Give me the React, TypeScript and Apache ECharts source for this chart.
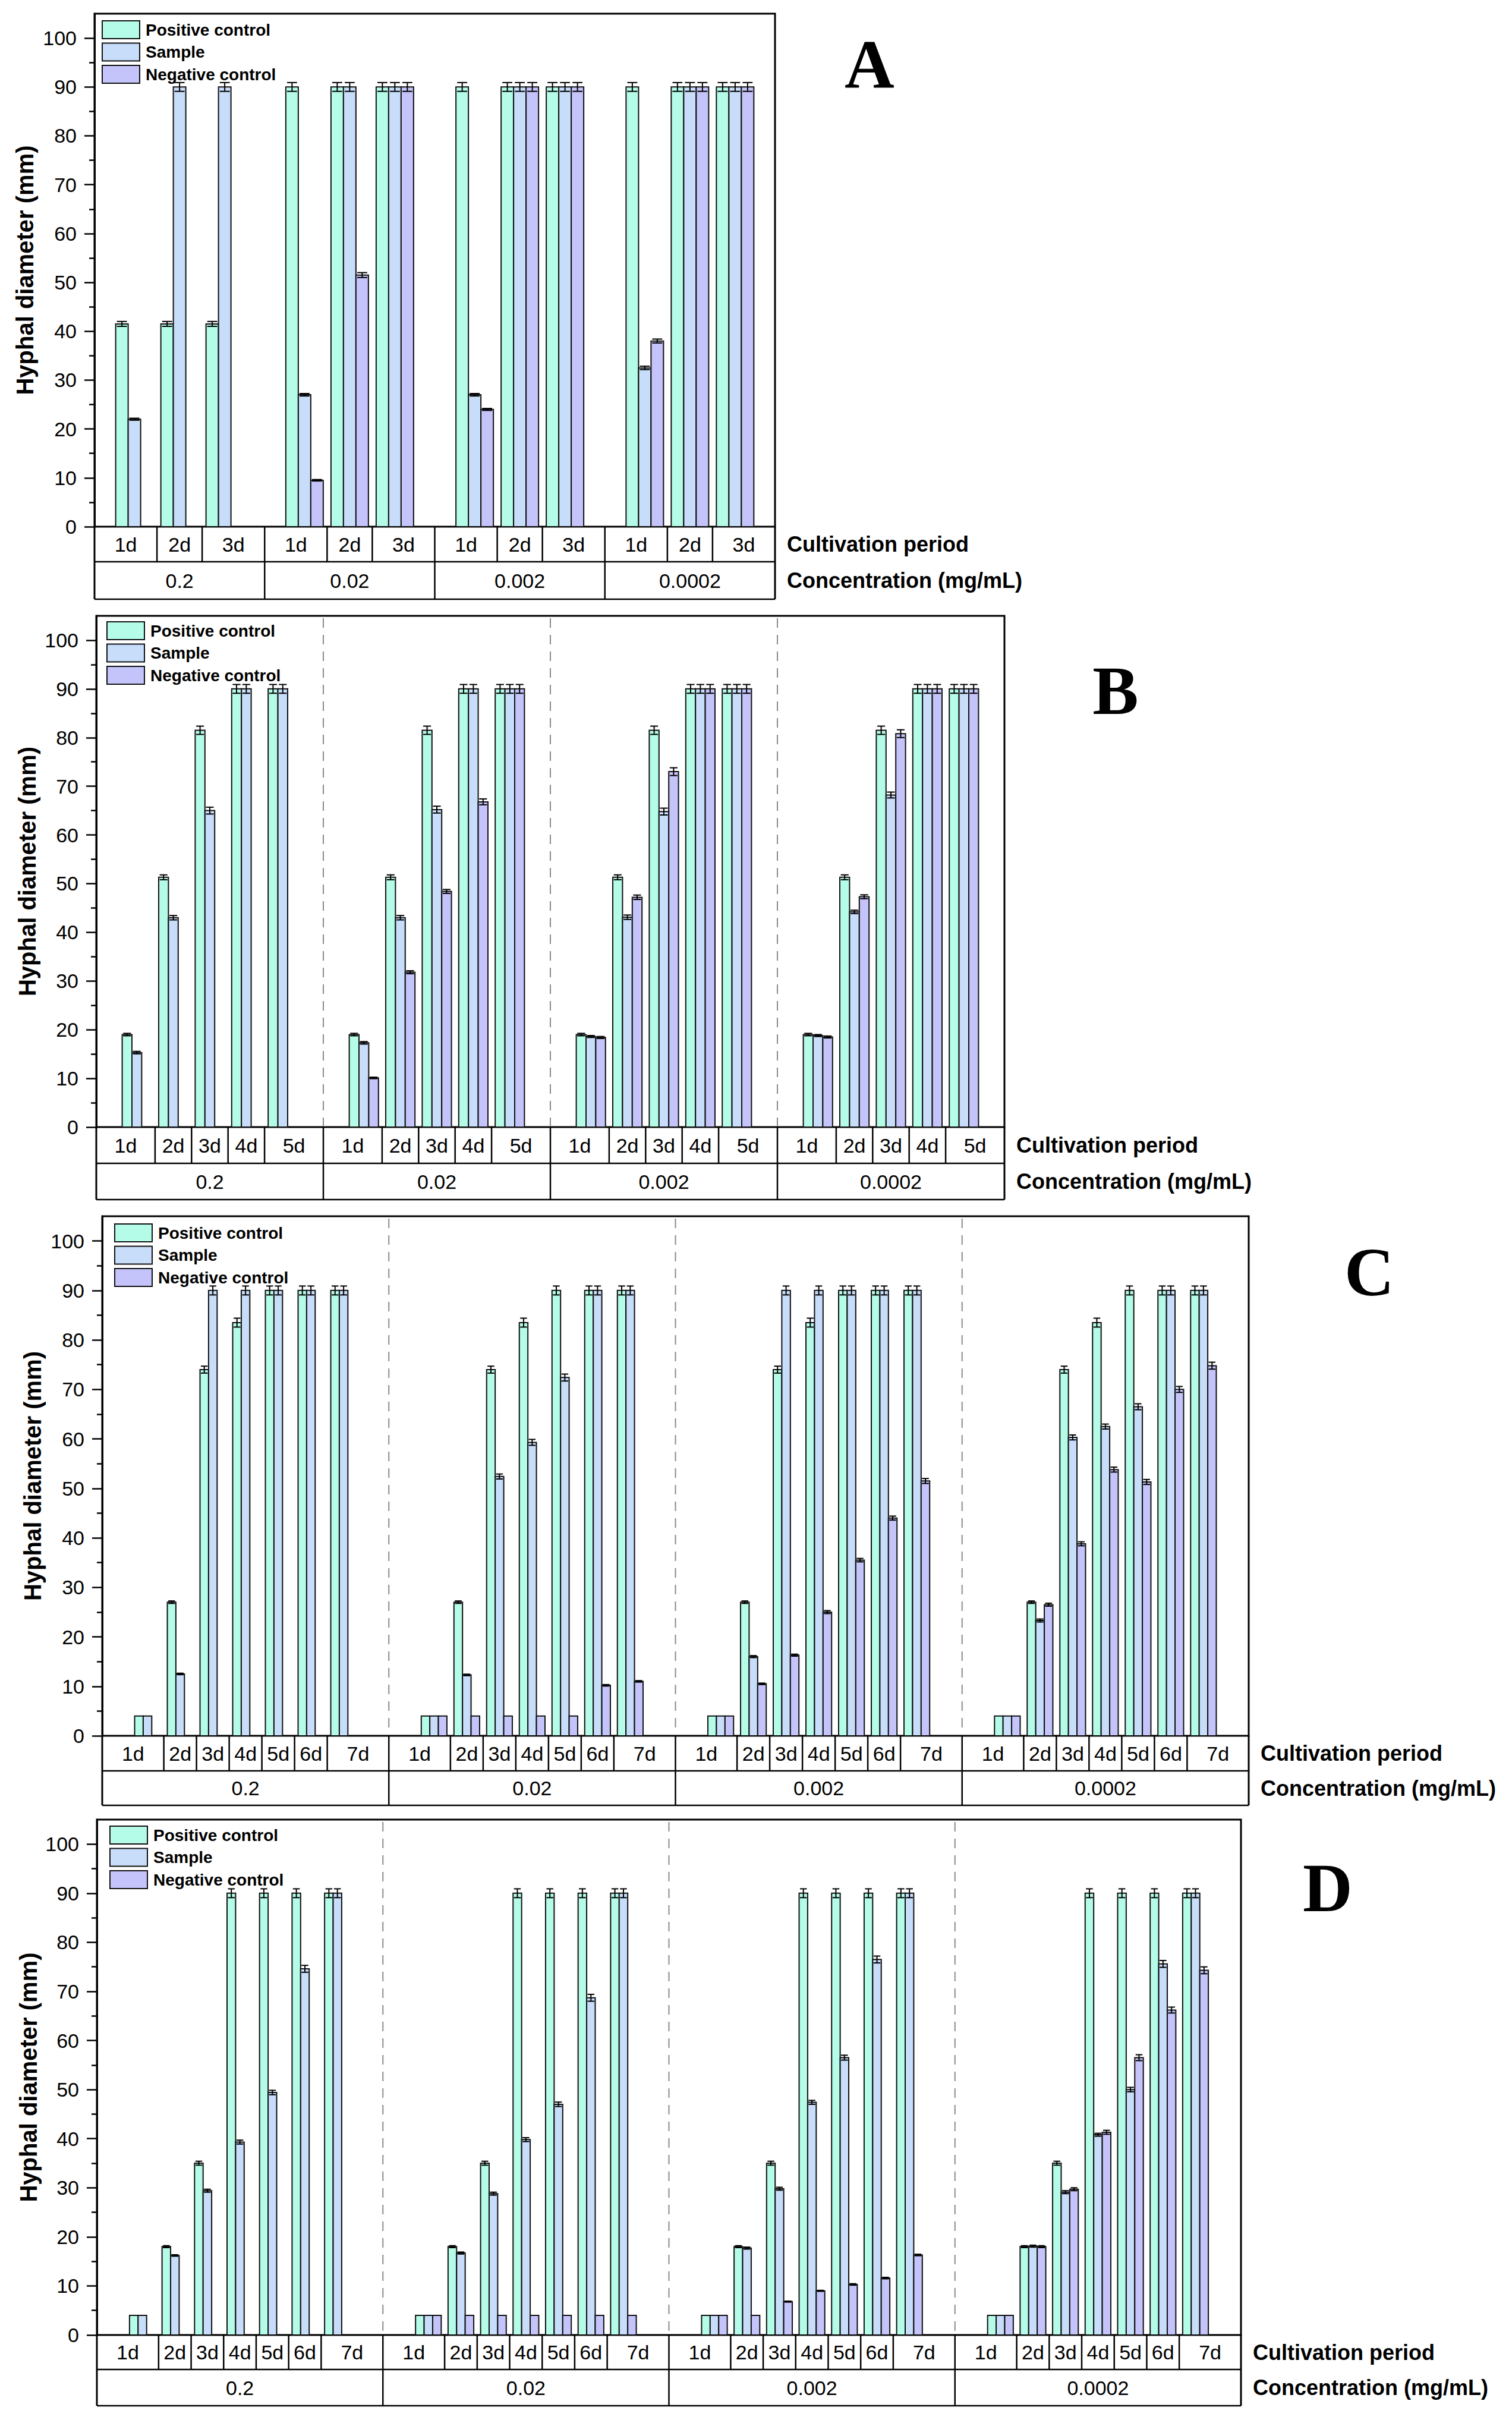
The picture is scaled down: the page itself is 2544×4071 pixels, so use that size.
import React, { useEffect, useRef } from "react";
import * as echarts from "echarts";

// ---------- data ----------
const CONCENTRATIONS = ["0.2", "0.02", "0.002", "0.0002"];
const DAYS_A = ["1d", "2d", "3d"];
const DAYS_B = ["1d", "2d", "3d", "4d", "5d"];
const DAYS_CD = ["1d", "2d", "3d", "4d", "5d", "6d", "7d"];
const SERIES_NAMES = ["Positive control", "Sample", "Negative control"];
const COLORS = ["#B4FCE8", "#C7DDFA", "#C4C4FA"];
const Y_MAJOR = [0, 10, 20, 30, 40, 50, 60, 70, 80, 90, 100];
const Y_MINOR = [5, 15, 25, 35, 45, 55, 65, 75, 85, 95];

// Panel A (3 days)
const A_pos = [[41.5, 41.5, 41.5], [90, 90, 90], [90, 90, 90], [90, 90, 90]];
const A_sam = [[22, 90, 90], [27, 90, 90], [27, 90, 90], [32.5, 90, 90]];
const A_neg = [[null, null, null], [9.5, 51.5, 90], [24, 90, 90], [38, 90, 90]];
const A_posErr = [[0.5, 0.5, 0.5], [0.9, 0.9, 0.9], [0.9, 0.9, 0.9], [0.9, 0.9, 0.9]];
const A_samErr = [[0.2, 0.9, 0.9], [0.25, 0.9, 0.9], [0.25, 0.9, 0.9], [0.35, 0.9, 0.9]];
const A_negErr = [[0, 0, 0], [0.15, 0.5, 0.9], [0.2, 0.9, 0.9], [0.4, 0.9, 0.9]];

// Panel B (5 days)
const B_pos = [[19, 51.3, 81.5, 90, 90], [19, 51.3, 81.5, 90, 90], [19, 51.3, 81.5, 90, 90], [19, 51.3, 81.5, 90, 90]];
const B_sam = [[15.3, 43, 65, 90, 90], [17.3, 43, 65.2, 90, 90], [18.6, 43.1, 64.8, 90, 90], [18.8, 44.2, 68.2, 90, 90]];
const B_neg = [[null, null, null, null, null], [10.1, 31.8, 48.4, 66.8, 90], [18.4, 47.2, 73, 90, 90], [18.5, 47.3, 80.8, 90, 90]];
const B_posErr = [[0.25, 0.5, 0.85, 0.9, 0.9], [0.25, 0.5, 0.85, 0.9, 0.9], [0.25, 0.5, 0.85, 0.9, 0.9], [0.25, 0.5, 0.85, 0.9, 0.9]];
const B_samErr = [[0.25, 0.45, 0.7, 0.9, 0.9], [0.25, 0.45, 0.7, 0.9, 0.9], [0.2, 0.45, 0.7, 0.9, 0.9], [0.2, 0.35, 0.6, 0.9, 0.9]];
const B_negErr = [[0, 0, 0, 0, 0], [0.15, 0.3, 0.4, 0.6, 0.9], [0.2, 0.45, 0.8, 0.9, 0.9], [0.2, 0.4, 0.8, 0.9, 0.9]];

// Panel C (7 days)
const C_pos = [[4, 27, 74, 83.5, 90, 90, 90], [4, 27, 74, 83.5, 90, 90, 90], [4, 27, 74, 83.5, 90, 90, 90], [4, 27, 74, 83.5, 90, 90, 90]];
const C_sam = [[4, 12.5, 90, 90, 90, 90, 90], [4, 12.3, 52.4, 59.3, 72.4, 90, 90], [4, 16, 90, 90, 90, 90, 90], [4, 23.3, 60.3, 62.5, 66.5, 90, 90]];
const C_neg = [[null, null, null, null, null, null, null], [4, 4, 4, 4, 4, 10.2, 11], [4, 10.5, 16.3, 25, 35.5, 44, 51.5], [4, 26.5, 38.8, 53.8, 51.3, 70, 74.8]];
const C_posErr = [[0, 0.25, 0.7, 0.9, 0.9, 0.9, 0.9], [0, 0.25, 0.7, 0.9, 0.9, 0.9, 0.9], [0, 0.25, 0.7, 0.9, 0.9, 0.9, 0.9], [0, 0.25, 0.7, 0.9, 0.9, 0.9, 0.9]];
const C_samErr = [[0, 0.15, 0.9, 0.9, 0.9, 0.9, 0.9], [0, 0.15, 0.5, 0.6, 0.7, 0.9, 0.9], [0, 0.2, 0.9, 0.9, 0.9, 0.9, 0.9], [0, 0.3, 0.5, 0.5, 0.6, 0.9, 0.9]];
const C_negErr = [[0, 0, 0, 0, 0, 0, 0], [0, 0, 0, 0, 0, 0.15, 0.15], [0, 0.15, 0.2, 0.3, 0.35, 0.4, 0.5], [0, 0.3, 0.4, 0.5, 0.5, 0.6, 0.7]];

// Panel D (7 days)
const D_pos = [[4, 18, 35, 90, 90, 90, 90], [4, 18, 35, 90, 90, 90, 90], [4, 18, 35, 90, 90, 90, 90], [4, 18, 35, 90, 90, 90, 90]];
const D_sam = [[4, 16.2, 29.4, 39.3, 49.4, 74.6, 90], [4, 16.7, 28.8, 39.8, 47, 68.7, 90], [4, 17.7, 29.8, 47.4, 56.5, 76.5, 90], [4, 18.1, 29.1, 40.8, 50, 75.6, 90]];
const D_neg = [[null, null, null, null, null, null, null], [4, 4, 4, 4, 4, 4, 4], [4, 4, 6.8, 9, 10.3, 11.6, 16.3], [4, 18, 29.7, 41.3, 56.5, 66.2, 74.3]];
const D_posErr = [[0, 0.2, 0.4, 0.9, 0.9, 0.9, 0.9], [0, 0.2, 0.4, 0.9, 0.9, 0.9, 0.9], [0, 0.2, 0.4, 0.9, 0.9, 0.9, 0.9], [0, 0.2, 0.4, 0.9, 0.9, 0.9, 0.9]];
const D_samErr = [[0, 0.15, 0.3, 0.4, 0.45, 0.7, 0.9], [0, 0.2, 0.3, 0.4, 0.45, 0.7, 0.9], [0, 0.2, 0.3, 0.4, 0.5, 0.7, 0.9], [0, 0.2, 0.3, 0.3, 0.45, 0.7, 0.9]];
const D_negErr = [[0, 0, 0, 0, 0, 0, 0], [0, 0, 0, 0, 0, 0, 0], [0, 0, 0.1, 0.1, 0.15, 0.15, 0.15], [0, 0.2, 0.3, 0.4, 0.6, 0.6, 0.7]];

// ---------- layout ----------
const FONT = '"Liberation Sans", Arial, sans-serif';
const SERIF = '"Liberation Serif", "Times New Roman", serif';

const PANELS = [
  { id: "A", days: DAYS_A, vals: [A_pos, A_sam, A_neg], errs: [A_posErr, A_samErr, A_negErr],
    L: 159, R: 1304, T: 23, Y0: 886, dayB: 945, concB: 1008, barW: 21, step: 76, dashed: false,
    legend: [171, 34], titleX: 42, letter: [1463, 108] },
  { id: "B", days: DAYS_B, vals: [B_pos, B_sam, B_neg], errs: [B_posErr, B_samErr, B_negErr],
    L: 162, R: 1690, T: 1036, Y0: 1896, dayB: 1957, concB: 2018, barW: 16.4, step: 61.4, dashed: true,
    legend: [179, 1045], titleX: 46, letter: [1877, 1162] },
  { id: "C", days: DAYS_CD, vals: [C_pos, C_sam, C_neg], errs: [C_posErr, C_samErr, C_negErr],
    L: 172, R: 2101, T: 2046, Y0: 2920, dayB: 2979, concB: 3037, barW: 14.4, step: 55, dashed: true,
    legend: [192, 2058], titleX: 55, letter: [2304, 2140] },
  { id: "D", days: DAYS_CD, vals: [D_pos, D_sam, D_neg], errs: [D_posErr, D_samErr, D_negErr],
    L: 163, R: 2088, T: 3061, Y0: 3928, dayB: 3986, concB: 4047, barW: 14.4, step: 54.7, dashed: true,
    legend: [184, 3071], titleX: 48, letter: [2234, 3176] },
];

function makeRender(color: string, barW: number) {
  return (params: any, api: any) => {
    const x = api.value(0);
    const y = api.value(1);
    const err = api.value(2);
    const base = api.coord([x, 0]);
    const top = api.coord([x, y]);
    const w = api.size([barW, 0])[0];
    const children: any[] = [
      {
        type: "rect",
        shape: { x: base[0] - w / 2, y: top[1], width: w, height: base[1] - top[1] },
        style: { fill: color, stroke: "#111", lineWidth: 2 },
      },
    ];
    if (err > 0) {
      const t = api.coord([x, y + err])[1];
      const b = api.coord([x, y - err])[1];
      const cw = (w * 0.8) / 2;
      const st = { stroke: "#000", lineWidth: 2 };
      children.push({ type: "line", shape: { x1: base[0], y1: t, x2: base[0], y2: b }, style: st });
      children.push({ type: "line", shape: { x1: base[0] - cw, y1: t, x2: base[0] + cw, y2: t }, style: st });
      children.push({ type: "line", shape: { x1: base[0] - cw, y1: b, x2: base[0] + cw, y2: b }, style: st });
    }
    return { type: "group", children };
  };
}

function buildOption() {
  const grid: any[] = [];
  const xAxis: any[] = [];
  const yAxis: any[] = [];
  const series: any[] = [];
  const legend: any[] = [];
  const graphic: any[] = [];

  PANELS.forEach((p, pi) => {
    const span = p.R - p.L;
    const W = span / CONCENTRATIONS.length;
    const n = p.days.length;
    const e = (W - (n - 1) * p.step) / 2;

    grid.push({ left: p.L, top: p.T, width: span, height: p.Y0 - p.T, show: true, borderColor: "#000", borderWidth: 3, backgroundColor: "transparent" });
    xAxis.push({ type: "value", gridIndex: pi, min: 0, max: span, show: false });
    yAxis.push({
      type: "value", gridIndex: pi, min: 0, max: 105, interval: 10, position: "left",
      axisLine: { show: true, lineStyle: { color: "#000", width: 3 } },
      axisTick: { show: true, length: 17, customValues: Y_MAJOR, lineStyle: { color: "#000", width: 2.5 } },
      axisLabel: { show: true, customValues: Y_MAJOR, fontSize: 34, color: "#000", fontFamily: FONT, margin: 30 },
      splitLine: { show: false },
    });
    yAxis.push({
      type: "value", gridIndex: pi, min: 0, max: 105, interval: 10, position: "left",
      axisLine: { show: false },
      axisTick: { show: true, length: 9, customValues: Y_MINOR, lineStyle: { color: "#000", width: 2.5 } },
      axisLabel: { show: false },
      splitLine: { show: false },
    });

    p.vals.forEach((vals, si) => {
      const errs = p.errs[si];
      const data: any[] = [];
      vals.forEach((gv: any[], g: number) =>
        gv.forEach((v: any, d: number) => {
          if (v == null) return;
          const x = g * W + e + d * p.step + (si - 1) * p.barW;
          data.push([x, v, errs[g][d]]);
        })
      );
      series.push({
        type: "custom", name: SERIES_NAMES[si], xAxisIndex: pi, yAxisIndex: pi * 2,
        itemStyle: { color: COLORS[si], borderColor: "#111", borderWidth: 2 },
        encode: { x: 0, y: 1 }, data, renderItem: makeRender(COLORS[si], p.barW), clip: false, z: 3,
      });
    });

    legend.push({
      show: true, orient: "vertical", left: p.legend[0], top: p.legend[1], padding: 0,
      itemWidth: 63, itemHeight: 30, itemGap: 5.5, icon: "rect", selectedMode: false,
      data: SERIES_NAMES.map((nm, i) => ({ name: nm, itemStyle: { color: COLORS[i], borderColor: "#111", borderWidth: 2 } })),
      textStyle: { fontSize: 28, fontWeight: "bold", color: "#000", fontFamily: FONT, padding: [0, 0, 0, 5] },
    });

    // table lines
    const lw = 2.5;
    const ln = (x1: number, y1: number, x2: number, y2: number, extra: any = {}) => ({
      type: "line", shape: { x1, y1, x2, y2 }, style: { stroke: "#000", lineWidth: lw, ...extra }, z: 10,
    });
    graphic.push(ln(p.L, p.dayB, p.R, p.dayB));
    graphic.push(ln(p.L, p.concB, p.R, p.concB));
    for (let g = 0; g <= CONCENTRATIONS.length; g++) {
      const gx = p.L + g * W;
      graphic.push(ln(gx, p.Y0, gx, p.concB, { lineWidth: g === 0 || g === CONCENTRATIONS.length ? 3 : lw }));
      if (p.dashed && g > 0 && g < CONCENTRATIONS.length) {
        graphic.push({ type: "line", shape: { x1: gx, y1: p.T + 4, x2: gx, y2: p.Y0 - 2 }, style: { stroke: "#8a8a8a", lineWidth: 2, lineDash: [16, 12] }, z: 1 });
      }
    }
    CONCENTRATIONS.forEach((c, g) => {
      const g0 = g * W;
      for (let d = 0; d < n; d++) {
        const start = d === 0 ? g0 : g0 + e + (d - 0.5) * p.step;
        const end = d === n - 1 ? g0 + W : g0 + e + (d + 0.5) * p.step;
        if (d > 0) graphic.push(ln(p.L + start, p.Y0, p.L + start, p.dayB));
        graphic.push({
          type: "text", x: p.L + (start + end) / 2, y: (p.Y0 + p.dayB) / 2, z: 10,
          style: { text: p.days[d], fill: "#000", fontSize: 34, fontFamily: FONT, align: "center", verticalAlign: "middle" },
        });
      }
      graphic.push({
        type: "text", x: p.L + g0 + W / 2, y: (p.dayB + p.concB) / 2, z: 10,
        style: { text: c, fill: "#000", fontSize: 34, fontFamily: FONT, align: "center", verticalAlign: "middle" },
      });
    });
    graphic.push({
      type: "text", x: p.R + 20, y: (p.Y0 + p.dayB) / 2, z: 10,
      style: { text: "Cultivation period", fill: "#000", fontSize: 36, fontWeight: "bold", fontFamily: FONT, align: "left", verticalAlign: "middle" },
    });
    graphic.push({
      type: "text", x: p.R + 20, y: (p.dayB + p.concB) / 2, z: 10,
      style: { text: "Concentration (mg/mL)", fill: "#000", fontSize: 36, fontWeight: "bold", fontFamily: FONT, align: "left", verticalAlign: "middle" },
    });
    graphic.push({
      type: "text", x: p.titleX, y: (p.T + p.Y0) / 2, rotation: Math.PI / 2, z: 10,
      style: { text: "Hyphal diameter (mm)", fill: "#000", fontSize: 40, fontWeight: "bold", fontFamily: FONT, align: "center", verticalAlign: "middle" },
    });
    graphic.push({
      type: "text", x: p.letter[0], y: p.letter[1], z: 10,
      style: { text: p.id, fill: "#000", fontSize: 116, fontWeight: "bold", fontFamily: SERIF, align: "center", verticalAlign: "middle" },
    });
  });

  return { animation: false, backgroundColor: "#fff", grid, xAxis, yAxis, series, legend, graphic };
}

export default function App() {
  const ref = useRef<HTMLDivElement>(null);
  useEffect(() => {
    document.body.style.margin = "0";
    if (!ref.current) return;
    const chart = echarts.init(ref.current, null, { renderer: "svg" });
    chart.setOption(buildOption() as any);
    return () => chart.dispose();
  }, []);
  return <div ref={ref} style={{ width: 2544, height: 4071 }} />;
}
